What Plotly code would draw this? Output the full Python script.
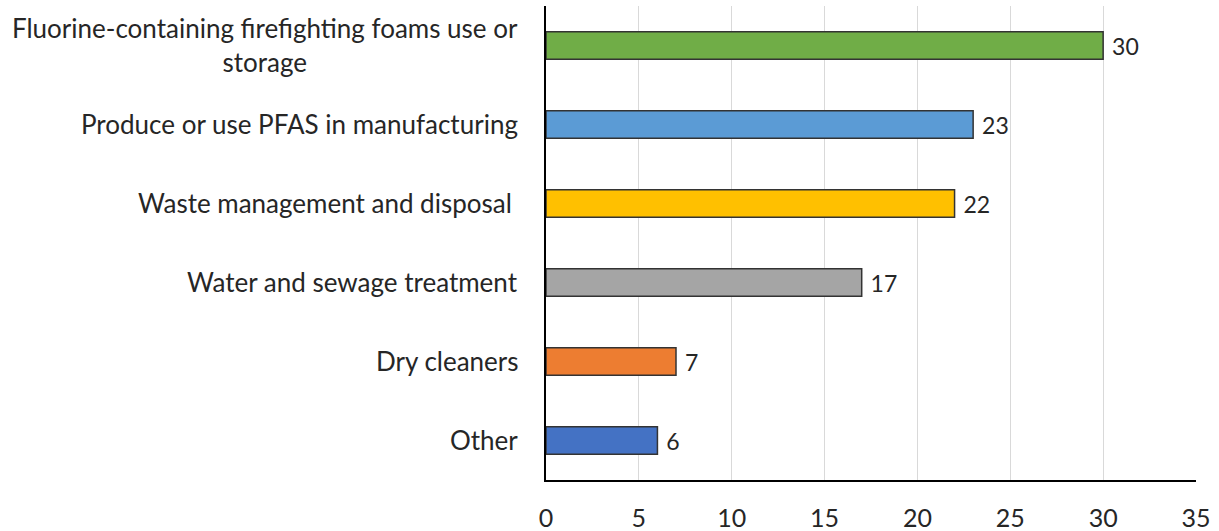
import plotly.graph_objects as go

# Sources reported, most frequent first
categories = [
    "Fluorine-containing firefighting foams use or<br>storage",
    "Produce or use PFAS in manufacturing",
    "Waste management and disposal\u00a0",
    "Water and sewage treatment",
    "Dry cleaners",
    "Other",
]
values = [30, 23, 22, 17, 7, 6]
colors = ["#70AD47", "#5B9BD5", "#FFC000", "#A5A5A5", "#ED7D31", "#4472C4"]
x_ticks = [0, 5, 10, 15, 20, 25, 30, 35]

FONT = "Lato"
TEXT_COLOR = "#262626"

fig = go.Figure(
    go.Bar(
        x=values,
        y=list(range(len(categories))),
        orientation="h",
        marker=dict(color=colors, line=dict(color="#333333", width=1.5)),
        text=["\u00a0" + str(v) for v in values],
        textposition="outside",
        textfont=dict(family=FONT, size=25, color=TEXT_COLOR),
        cliponaxis=False,
        width=0.35,
    )
)

# Category labels, centred line by line, right-aligned to the axis
for i, name in enumerate(categories):
    fig.add_annotation(
        x=0, xref="paper", y=i, yref="y",
        text=name, showarrow=False,
        xanchor="right", yanchor="middle", align="center",
        xshift=-26, yshift=1,
        font=dict(family=FONT, size=26, color=TEXT_COLOR),
    )

fig.update_layout(
    width=1219, height=531,
    margin=dict(l=546, r=23, t=6, b=51),
    plot_bgcolor="white", paper_bgcolor="white",
    showlegend=False,
    bargap=0.65,
)
fig.update_xaxes(
    range=[0, 35], tickvals=x_ticks, showgrid=True, gridcolor="#D9D9D9", gridwidth=1,
    showline=True, linecolor="black", linewidth=2, zeroline=False,
    tickfont=dict(family=FONT, size=25, color=TEXT_COLOR),
    ticks="", ticklabelstandoff=15, automargin=False,
)
fig.update_yaxes(
    range=[5.5, -0.5], showticklabels=False, showgrid=False, zeroline=False,
    showline=True, linecolor="black", linewidth=2, ticks="", automargin=False,
)

fig.write_html("out.html")
